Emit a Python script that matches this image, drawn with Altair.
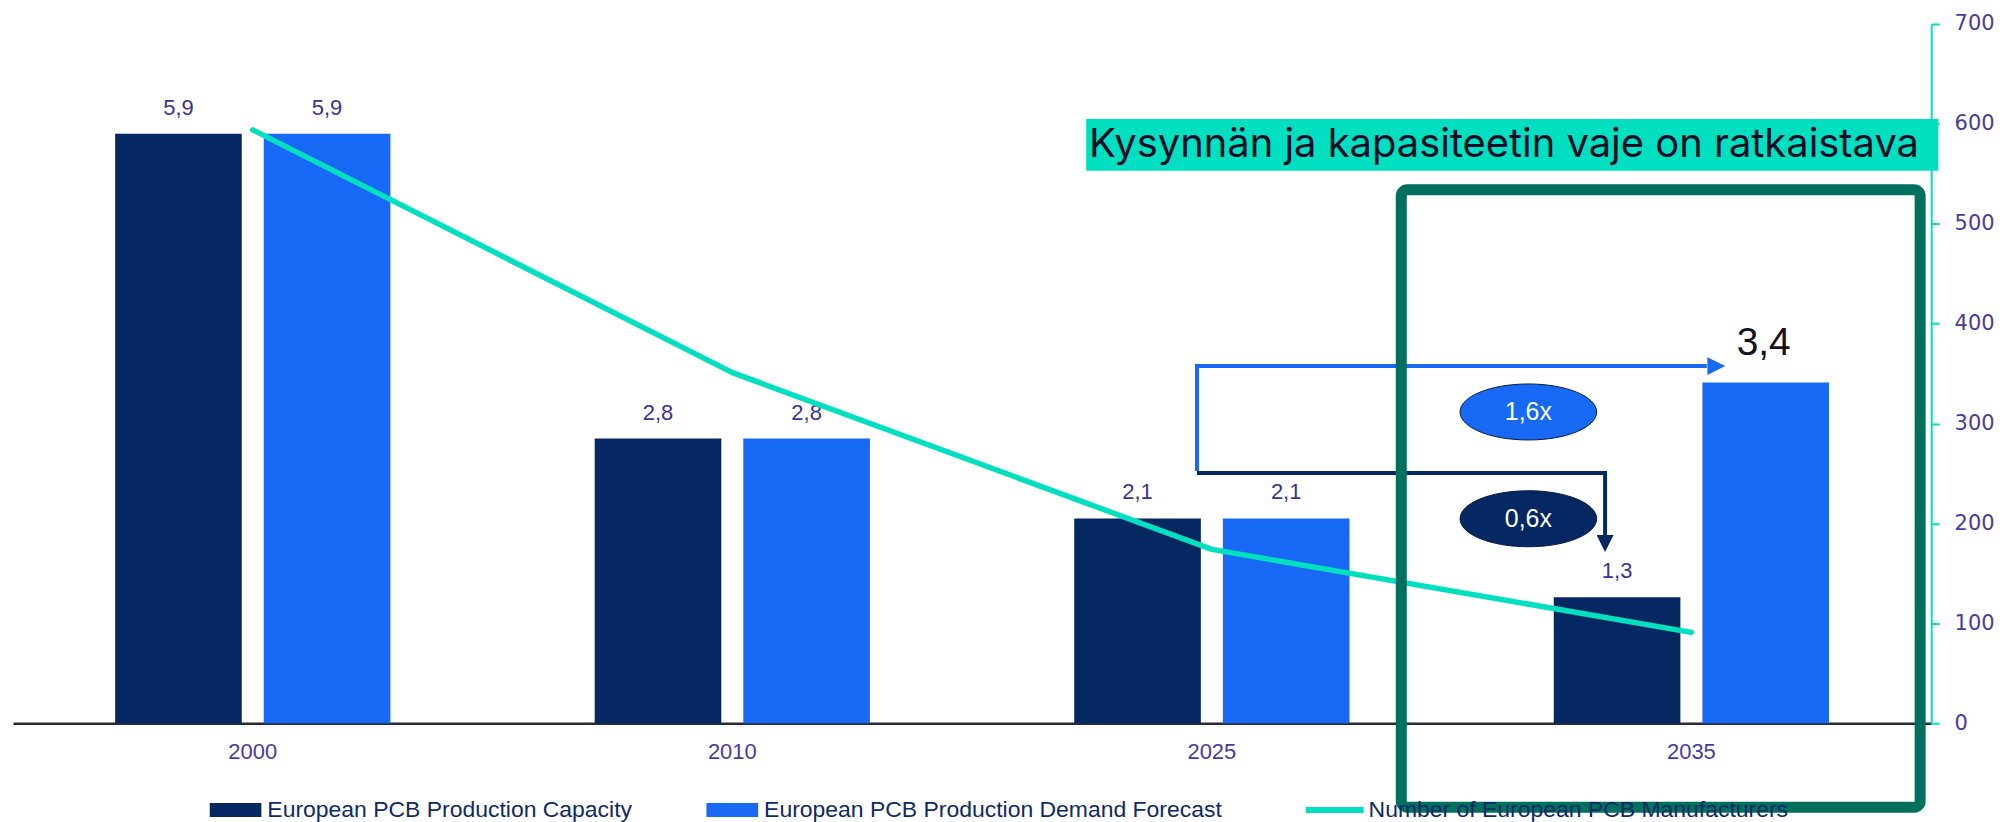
import altair as alt
import pandas as pd

# ---------------- data ----------------
years = ["2000", "2010", "2025", "2035"]
series_names = ["European PCB Production Capacity", "European PCB Production Demand Forecast"]
capacity = [5.9, 2.85, 2.05, 1.26]
demand = [5.9, 2.85, 2.05, 3.41]
capacity_labels = ["5,9", "2,8", "2,1", "1,3"]
demand_labels = ["5,9", "2,8", "2,1", "3,4"]
highlight = [False, False, False, True]  # demand 2035 label is emphasised

line_name = "Number of European PCB Manufacturers"
manufacturers = [594, 351, 174, 91]
right_ticks = [0, 100, 200, 300, 400, 500, 600, 700]

# annotations: x in category units (0-4 across the plot), y in right-axis units
title_text = "Kysynnän ja kapasiteetin vaje on ratkaistava"
title_box_x = [2.238, 4.015]
title_box_y = [553, 605]
title_text_pos = [2.244, 567]
gap_box_x = [2.895, 3.977]
gap_box_y = [-84, 534]
demand_arrow_x = [2.469, 2.469, 3.532]
demand_arrow_y = [252.6, 357.5, 357.5]
demand_head = [3.552, 357.5]
capacity_arrow_x = [2.469, 3.320, 3.320]
capacity_arrow_y = [250.6, 250.6, 187.7]
capacity_head = [3.320, 180.0]
ratio_labels = ["1,6x", "0,6x"]
ratio_x = [3.16, 3.16]
ratio_y = [311.6, 204.7]

# ---------------- styles ----------------
DARK = "#062862"
BLUE = "#1769f6"
TEAL = "#00e0c0"
GREEN = "#00705e"
PURPLE = "#3e3190"
NAVY_TXT = "#0f2a66"
ratio_fill = [BLUE, DARK]

bars_df = pd.DataFrame(
    [{"year": y, "series": series_names[0], "value": v, "label": l, "big": False}
     for y, v, l in zip(years, capacity, capacity_labels)]
    + [{"year": y, "series": series_names[1], "value": v, "label": l, "big": b}
       for y, v, l, b in zip(years, demand, demand_labels, highlight)]
)
line_df = pd.DataFrame({"year": years, "count": manufacturers, "series": [line_name] * len(years)})

X_SCALE = dict(type="band", domain=years, paddingInner=0.426, paddingOuter=0.213)
OFF_SCALE = alt.Scale(domain=series_names, paddingInner=0.148, paddingOuter=0)


def xband(axis=None):
    return alt.X("year:N", scale=alt.Scale(**X_SCALE), axis=axis, title=None, sort=years)


ybar = alt.Y("value:Q", scale=alt.Scale(domain=[0, 7], nice=False), axis=None)
xoff = alt.XOffset("series:N", scale=OFF_SCALE, sort=series_names)
ax = alt.X("x:Q", scale=alt.Scale(domain=[0, 4], nice=False, zero=False), axis=None)
ay = alt.Y("y:Q", scale=alt.Scale(domain=[0, 700], nice=False, zero=False), axis=None)

x_axis = alt.Axis(labelFontSize=22, labelFont="Liberation Sans", labelColor="#4a3aa0",
                  labelAngle=0, ticks=False, tickSize=0, labelPadding=18,
                  domainColor="#2a2a3a", domainWidth=2.5, grid=False, zindex=0)

RECT_PATH = "M-1,-0.27L1,-0.27L1,0.27L-1,0.27Z"
bars = alt.Chart(bars_df).mark_bar().encode(
    x=xband(x_axis),
    xOffset=xoff,
    y=ybar,
    color=alt.Color("series:N", scale=alt.Scale(domain=series_names, range=[DARK, BLUE]),
                    sort=series_names,
                    legend=alt.Legend(orient="none", legendX=197, legendY=778, direction="horizontal",
                                      title=None, labelFontSize=23, labelFont="Liberation Sans",
                                      labelColor=NAVY_TXT, symbolType=RECT_PATH, symbolSize=2704,
                                      symbolStrokeWidth=0, symbolOpacity=1, clipHeight=20,
                                      columnPadding=74, labelOffset=6, labelLimit=800, padding=0)),
)

labels = alt.Chart(bars_df).transform_filter("!datum.big").mark_text(
    baseline="alphabetic", dy=-19, fontSize=22, font="Liberation Sans", color=PURPLE
).encode(x=xband(), xOffset=xoff, y=ybar, text="label:N")

big_label = alt.Chart(bars_df).transform_filter("datum.big").mark_text(
    baseline="alphabetic", dy=-28, dx=-2, fontSize=39, font="Liberation Sans", color="#111122"
).encode(x=xband(), xOffset=xoff, y=ybar, text="label:N")

y_axis = alt.Axis(orient="right", values=right_ticks, tickSize=8, tickColor=TEAL, tickWidth=2,
                  domainColor=TEAL, domainWidth=2, labelPadding=15, labelFontSize=21,
                  labelFont="DejaVu Sans", labelColor="#4a3aa0", grid=False, title=None, zindex=0)

line = alt.Chart(line_df).mark_line(strokeWidth=5.5, strokeCap="round", strokeJoin="round").encode(
    x=xband(),
    y=alt.Y("count:Q", scale=alt.Scale(domain=[0, 700], nice=False), axis=y_axis),
    stroke=alt.Stroke("series:N", scale=alt.Scale(domain=[line_name], range=[TEAL]),
                      legend=alt.Legend(orient="none", legendX=1293, legendY=778, title=None,
                                        labelFontSize=23, labelFont="Liberation Sans",
                                        labelColor=NAVY_TXT, symbolType="stroke", symbolSize=3364,
                                        symbolStrokeWidth=6, clipHeight=20, labelOffset=2,
                                        labelLimit=800, padding=0)),
)

# annotation layers
title_rect = alt.Chart(pd.DataFrame({"x": [title_box_x[0]], "x2": [title_box_x[1]],
                                     "y": [title_box_y[0]], "y2": [title_box_y[1]]})).mark_rect(
    color=TEAL).encode(x=ax, x2="x2:Q", y=ay, y2="y2:Q")

title_txt = alt.Chart(pd.DataFrame({"x": [title_text_pos[0]], "y": [title_text_pos[1]],
                                    "t": [title_text]})).mark_text(
    align="left", baseline="alphabetic", fontSize=40, font="Inter", color="#0d0d26"
).encode(x=ax, y=ay, text="t:N")

demand_arrow = alt.Chart(pd.DataFrame({"x": demand_arrow_x, "y": demand_arrow_y,
                                       "o": list(range(len(demand_arrow_x)))})).mark_line(
    color=BLUE, strokeWidth=4).encode(x=ax, y=ay, order="o:Q")
demand_head_pt = alt.Chart(pd.DataFrame({"x": [demand_head[0]], "y": [demand_head[1]]})).mark_point(
    filled=True, shape="M-1,-1L1,0L-1,1Z", size=324, color=BLUE, opacity=1).encode(x=ax, y=ay)

cap_arrow = alt.Chart(pd.DataFrame({"x": capacity_arrow_x, "y": capacity_arrow_y,
                                    "o": list(range(len(capacity_arrow_x)))})).mark_line(
    color=DARK, strokeWidth=4).encode(x=ax, y=ay, order="o:Q")
cap_head_pt = alt.Chart(pd.DataFrame({"x": [capacity_head[0]], "y": [capacity_head[1]]})).mark_point(
    filled=True, shape="M-1,-1L1,-1L0,1Z", size=289, color=DARK, opacity=1).encode(x=ax, y=ay)

ELLIPSE = ("M1,0C1,0.2264,0.5523,0.41,0,0.41C-0.5523,0.41,-1,0.2264,-1,0"
           "C-1,-0.2264,-0.5523,-0.41,0,-0.41C0.5523,-0.41,1,-0.2264,1,0Z")
ratio_df = pd.DataFrame({"x": ratio_x, "y": ratio_y, "t": ratio_labels, "c": ratio_fill})
ellipses = alt.Chart(ratio_df).mark_point(
    filled=True, shape=ELLIPSE, size=18769, stroke="#0a1a40", strokeWidth=1, opacity=1
).encode(x=ax, y=ay, fill=alt.Fill("c:N", scale=None))
ellipse_txt = alt.Chart(ratio_df).mark_text(
    fontSize=25, font="Liberation Sans", color="white", baseline="middle", align="center"
).encode(x=ax, y=ay, text="t:N")

gap_box = alt.Chart(pd.DataFrame({"x": [gap_box_x[0]], "x2": [gap_box_x[1]],
                                  "y": [gap_box_y[0]], "y2": [gap_box_y[1]]})).mark_rect(
    filled=False, stroke=GREEN, strokeWidth=11, cornerRadius=6, fillOpacity=0).encode(
    x=ax, x2="x2:Q", y=ay, y2="y2:Q")

chart = alt.layer(
    bars, labels, big_label, line, title_rect, title_txt,
    demand_arrow, demand_head_pt, cap_arrow, cap_head_pt, ellipses, ellipse_txt, gap_box
).resolve_scale(
    x="independent", y="independent"
).properties(
    width=1923, height=701, padding={"left": 5, "top": 4, "right": 5, "bottom": 2},
    background="white"
).configure_view(stroke=None)

chart.save("out.html", embed_options={"renderer": "svg", "actions": False})
